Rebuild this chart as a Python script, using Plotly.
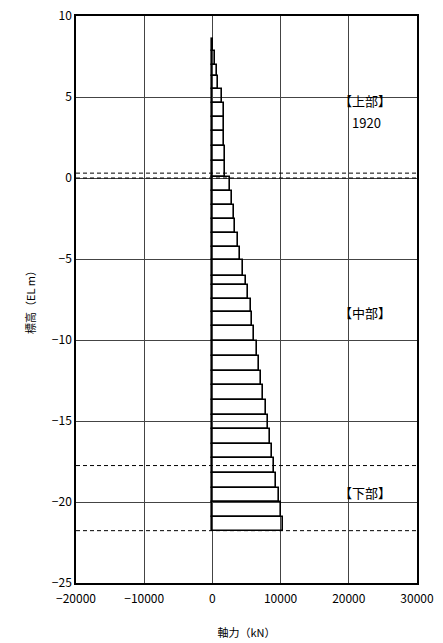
import plotly.graph_objects as go

# Element boundaries (elevation, m) from top to bottom
boundaries = [8.56, 7.82, 7.0, 6.28, 5.49, 4.63, 3.75, 2.88, 2.0, 1.03, 0.04,
              -0.78, -1.64, -2.51, -3.40, -4.25, -5.09, -6.02, -6.59, -7.44,
              -8.29, -9.15, -10.08, -11.0, -11.89, -12.8, -13.70, -14.6,
              -15.47, -16.4, -17.28, -18.21, -19.14, -20.02, -20.95, -21.77]
# Axial force (kN) for each element
axial = [150, 350, 620, 890, 1350, 1650, 1700, 1760, 1820, 1920,
         2600, 2840, 3180, 3370, 3810, 4050, 4540, 4890, 5180, 5600,
         5860, 6100, 6590, 6840, 7170, 7470, 7860, 8200, 8450, 8780,
         9080, 9370, 9720, 10060, 10400]
# Boundary (dashed) elevations
dashed_levels = [0.3, 0.0, -17.75, -21.77]
# Labels
labels = ["【上部】", "1920", "【中部】", "【下部】"]
label_x = [22350, 22650, 22350, 22350]
label_y = [4.8, 3.4, -8.3, -19.4]

centers = [(boundaries[i] + boundaries[i + 1]) / 2 for i in range(len(axial))]
heights = [boundaries[i] - boundaries[i + 1] for i in range(len(axial))]

FONT = "Noto Sans CJK JP"

fig = go.Figure()
fig.add_trace(go.Bar(
    orientation="h", y=centers, x=axial, width=heights, base=0,
    marker=dict(color="rgba(0,0,0,0)", line=dict(color="black", width=1.6)),
    showlegend=False, hoverinfo="skip",
))

for lv in dashed_levels:
    fig.add_shape(type="line", xref="paper", x0=0, x1=1, yref="y", y0=lv, y1=lv,
                  line=dict(color="black", width=1, dash="4px,3px"))

for t, x, y in zip(labels, label_x, label_y):
    fig.add_annotation(x=x, y=y, text=t, showarrow=False,
                       font=dict(family=FONT, size=13, color="black"))

fig.update_layout(
    width=443, height=643,
    margin=dict(l=76, r=26, t=16, b=60),
    paper_bgcolor="white", plot_bgcolor="white",
    font=dict(family=FONT, size=12, color="black"),
    bargap=0,
)
fig.update_xaxes(
    range=[-20000, 30000], dtick=10000, tick0=0, tickformat="d",
    showgrid=True, gridcolor="#444", gridwidth=1,
    showline=True, linecolor="black", linewidth=1.5, mirror=True,
    zeroline=False, ticks="", automargin=False, ticklabeloverflow="allow",
    ticklabelstandoff=4,
    title=dict(text="軸力（kN）", standoff=24, font=dict(size=11)),
)
fig.update_yaxes(
    range=[-25, 10], dtick=5, tick0=0,
    showgrid=True, gridcolor="#444", gridwidth=1,
    showline=True, linecolor="black", linewidth=1.5, mirror=True,
    zeroline=False, ticks="", automargin=False, ticklabeloverflow="allow",
    title=dict(text="標高（EL m）", standoff=14, font=dict(size=11)),
)

fig.write_html("out.html", config={"displayModeBar": False},
               post_script="document.body.style.margin='0';")
